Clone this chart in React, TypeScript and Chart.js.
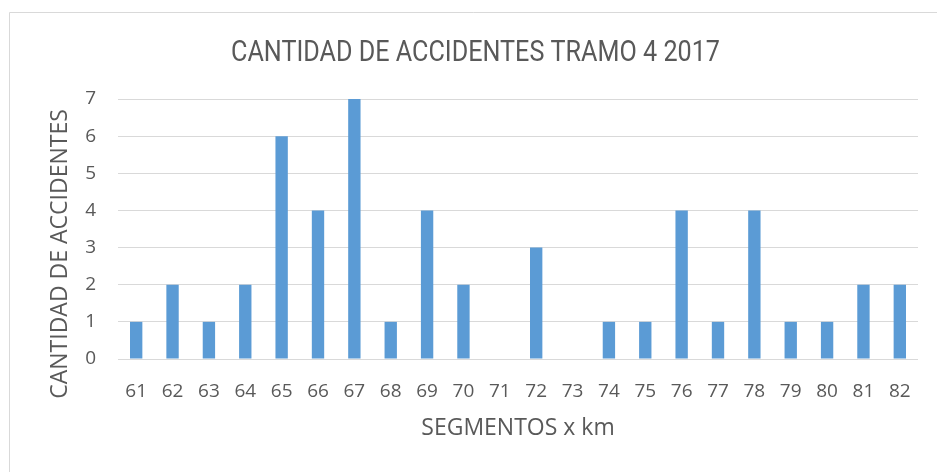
import React, { useEffect, useRef } from "react";
import { Chart, registerables } from "chart.js";

Chart.register(...registerables);

const categories = ["61","62","63","64","65","66","67","68","69","70","71","72","73","74","75","76","77","78","79","80","81","82"];
const accidents = [1,2,1,2,6,4,7,1,4,2,0,3,0,1,1,4,1,4,1,1,2,2];
const chartTitle = "CANTIDAD DE ACCIDENTES TRAMO 4 2017";
const xTitle = "SEGMENTOS x km";
const yTitle = "CANTIDAD DE ACCIDENTES";
const yMin = 0;
const yMax = 7;
const yStep = 1;

const W = 937;
const H = 472;
const TEXT = "#595959";
const GRID = "#d9d9d9";

const framePlugin = {
  id: "frameAndTitles",
  beforeDraw(chart: any) {
    const ctx = chart.ctx;
    ctx.save();
    ctx.fillStyle = "#ffffff";
    ctx.fillRect(0, 0, chart.width, chart.height);
    ctx.strokeStyle = GRID;
    ctx.lineWidth = 1;
    ctx.beginPath();
    ctx.moveTo(9.5, chart.height);
    ctx.lineTo(9.5, 12.5);
    ctx.lineTo(chart.width, 12.5);
    ctx.stroke();
    ctx.restore();
  },
  afterDraw(chart: any) {
    const ctx = chart.ctx;
    ctx.save();
    ctx.fillStyle = TEXT;
    ctx.textAlign = "center";
    ctx.textBaseline = "alphabetic";
    ctx.font = "400 30px 'Roboto', sans-serif";
    ctx.fillText(chartTitle, 475.5, 61, 489);
    ctx.translate(67, 254);
    ctx.rotate(-Math.PI / 2);
    ctx.font = "23px 'Open Sans', sans-serif";
    ctx.fillText(yTitle, 0, 0);
    ctx.restore();
  },
};

export default function App() {
  const ref = useRef<HTMLCanvasElement | null>(null);
  useEffect(() => {
    if (!ref.current) return;
    const chart = new Chart(ref.current, {
      type: "bar",
      data: {
        labels: categories,
        datasets: [
          {
            data: accidents,
            backgroundColor: "#5b9bd5",
            borderWidth: 0,
            categoryPercentage: 1,
            barPercentage: 0.34,
          },
        ],
      },
      options: {
        animation: false,
        responsive: false,
        maintainAspectRatio: false,
        devicePixelRatio: 1,
        layout: { padding: { left: 10, right: 19, top: 99, bottom: 0 } },
        plugins: {
          legend: { display: false },
          tooltip: { enabled: false },
          title: { display: false },
        },
        scales: {
          x: {
            grid: { display: false, drawTicks: false },
            border: { display: false },
            ticks: {
              color: TEXT,
              font: { family: "Open Sans", size: 19, lineHeight: 1.2 },
              padding: 21,
              maxRotation: 0,
              autoSkip: false,
            },
            title: {
              display: true,
              text: xTitle,
              color: TEXT,
              font: { family: "Open Sans", size: 23, lineHeight: 1.2 },
              padding: { top: 0, bottom: 30 },
            },
            afterFit(scale: any) {
              scale.height = 113;
            },
          },
          y: {
            min: yMin,
            max: yMax,
            grid: { color: GRID, lineWidth: 1, drawTicks: false },
            border: { display: false },
            ticks: {
              stepSize: yStep,
              color: TEXT,
              font: { family: "Open Sans", size: 19, lineHeight: 1.2 },
              padding: 22,
            },
            afterFit(scale: any) {
              scale.width = 108;
            },
          },
        },
      },
      plugins: [framePlugin],
    } as any);
    return () => chart.destroy();
  }, []);
  return (
    <div style={{ position: "fixed", left: 0, top: 0, width: W, height: H, background: "#fff" }}>
      <canvas ref={ref} width={W} height={H} style={{ display: "block", width: W, height: H }} />
    </div>
  );
}
